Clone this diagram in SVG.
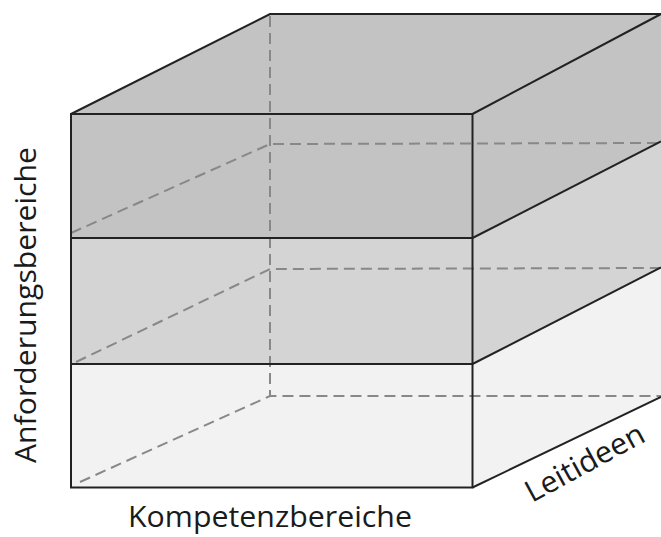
<svg xmlns="http://www.w3.org/2000/svg" width="661" height="537" viewBox="0 0 661 537">
<style>
.edge{fill:none;stroke:#222;stroke-width:2;stroke-linejoin:miter}
.hid{fill:none;stroke:#888;stroke-width:2;stroke-dasharray:11 6}
.lbl{font-family:"Open Sans","Liberation Sans",sans-serif;font-size:30px;fill:#1a1a1a}
</style>
<rect width="661" height="537" fill="#fff"/>
<g id="layer-top">
<polygon points="71,114 270,14 661,14 661,142 472,238 71,238" fill="#c3c3c3"/>
</g>
<g id="layer-middle">
<polygon points="71,238 472,238 661,142 661,268 472,364 71,364" fill="#d4d4d4"/>
</g>
<g id="layer-bottom">
<polygon points="71,364 472,364 661,268 661,397 472,487 71,487" fill="#f2f2f2"/>
</g>
<g id="hidden-edges">
<line class="hid" x1="270" y1="16" x2="270" y2="396"/>
<polyline class="hid" points="71,233 270,144 661,143"/>
<polyline class="hid" points="76,362 270,269 661,268"/>
<polyline class="hid" points="80,482 270,396 661,396"/>
</g>
<g id="edges">
<polyline class="edge" points="71,114 270,14 661,14"/>
<rect class="edge" x="71" y="114" width="401.5" height="373.5"/>
<line class="edge" x1="71" y1="238" x2="472.5" y2="238"/>
<line class="edge" x1="71" y1="364" x2="472.5" y2="364"/>
<line class="edge" x1="472.5" y1="114" x2="661" y2="14"/>
<line class="edge" x1="472.5" y1="238" x2="661" y2="141.5"/>
<line class="edge" x1="472.5" y1="364" x2="661" y2="267.5"/>
<line class="edge" x1="472.5" y1="487.5" x2="661" y2="397"/>
</g>
<g id="labels">
<text class="lbl" x="128" y="527" textLength="284" lengthAdjust="spacingAndGlyphs">Kompetenzbereiche</text>
<text class="lbl" transform="translate(36 463) rotate(-90)" textLength="316" lengthAdjust="spacingAndGlyphs">Anforderungsbereiche</text>
<text class="lbl" transform="translate(532 503) rotate(-28.5)" textLength="131" lengthAdjust="spacingAndGlyphs">Leitideen</text>
</g>
</svg>
